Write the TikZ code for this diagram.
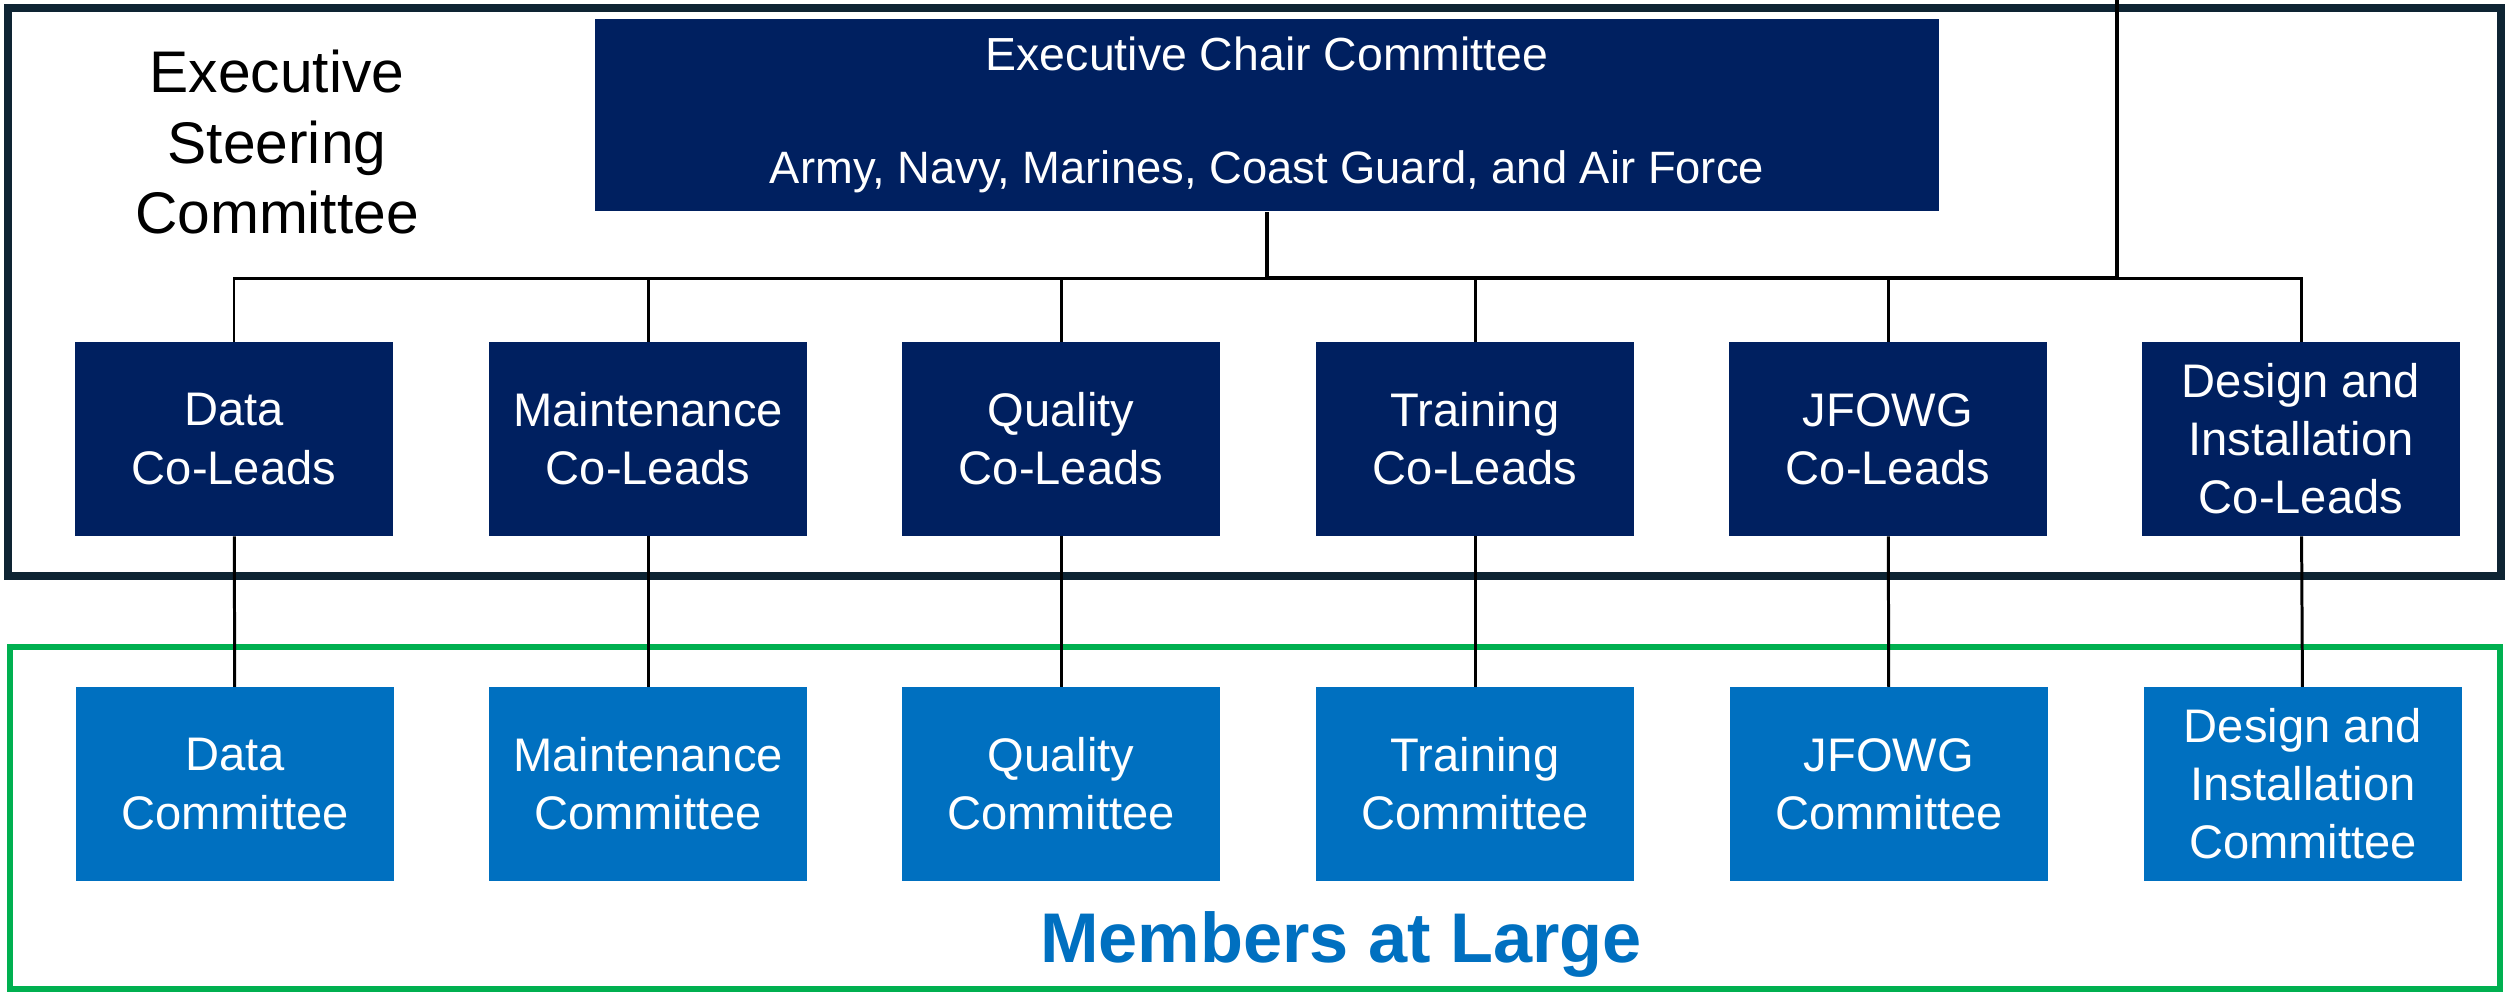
\documentclass[tikz,border=0pt]{standalone}
\usepackage{fontspec}
\setmainfont{Liberation Sans}
\usetikzlibrary{calc}
\definecolor{navy}{HTML}{002060}
\definecolor{msblue}{HTML}{0070C0}
\definecolor{msgreen}{HTML}{00B050}
\definecolor{darkframe}{HTML}{0E2433}

\begin{document}
\begin{tikzpicture}[x=0.01cm,y=-0.01cm,
	lead/.style={fill=navy,text=white,minimum width=3.18cm,minimum height=1.93cm,
		align=center,inner sep=0pt,font=\fontsize{13.4}{16.5}\selectfont},
	cmte/.style={lead,fill=msblue},
	link/.style={line width=0.85pt}]
		\useasboundingbox (0,0) rectangle (2509,996);
		\draw[darkframe,line width=2.3pt] (8,8) rectangle (2501,576);
		\draw[msgreen,line width=1.5pt] (10,647) rectangle (2500,989);
		\coordinate (bus) at (0,278);
		\coordinate (top) at (2117,0);
		\node[fill=navy,text=white,minimum width=13.44cm,minimum height=1.92cm,align=center,
			font=\fontsize{13.2}{16.3}\selectfont] (chair) at (1267,115)
			{Executive Chair Committee\\[16pt]\fontsize{12.9}{16.3}\selectfont Army, Navy, Marines, Coast Guard, and Air Force};
		\node[align=center,font=\fontsize{16.7}{20}\selectfont] (steer) at (277,142)
			{Executive\\Steering\\Committee};
		\node[lead] (dataL) at (234,439) {Data\\Co-Leads};
		\node[lead] (maintL) at (648,439) {Maintenance\\Co-Leads};
		\node[lead] (qualL) at (1061,439) {Quality\\Co-Leads};
		\node[lead] (trainL) at (1475,439) {Training\\Co-Leads};
		\node[lead] (jfowgL) at (1888,439) {JFOWG\\Co-Leads};
		\node[lead] (designL) at (2301,439) {Design and\\Installation\\Co-Leads};
		\node[cmte] (dataC) at (235,784) {Data\\Committee};
		\node[cmte] (maintC) at (648,784) {Maintenance\\Committee};
		\node[cmte] (qualC) at (1061,784) {Quality\\Committee};
		\node[cmte] (trainC) at (1475,784) {Training\\Committee};
		\node[cmte] (jfowgC) at (1889,784) {JFOWG\\Committee};
		\node[cmte] (designC) at (2303,784) {Design and\\Installation\\Committee};
		\node[text=msblue,font=\fontsize{20}{24}\selectfont\bfseries] (large) at (1341,944) {Members at Large};
		\draw[link] (dataL.north) -- (dataL.north |- bus) -| (designL.north);
		\draw[link] (maintL.north) -- (maintL.north |- bus);
		\draw[link] (qualL.north) -- (qualL.north |- bus);
		\draw[link] (trainL.north) -- (trainL.north |- bus);
		\draw[link] (jfowgL.north) -- (jfowgL.north |- bus);
		\draw[line width=1.4pt] (chair.south) -- (chair.south |- bus) -| (top);
		\draw[link] (dataL) -- (dataC);
		\draw[link] (maintL) -- (maintC);
		\draw[link] (qualL) -- (qualC);
		\draw[link] (trainL) -- (trainC);
		\draw[link] (jfowgL) -- (jfowgC);
		\draw[link] (designL) -- (designC);
\end{tikzpicture}
\end{document}
